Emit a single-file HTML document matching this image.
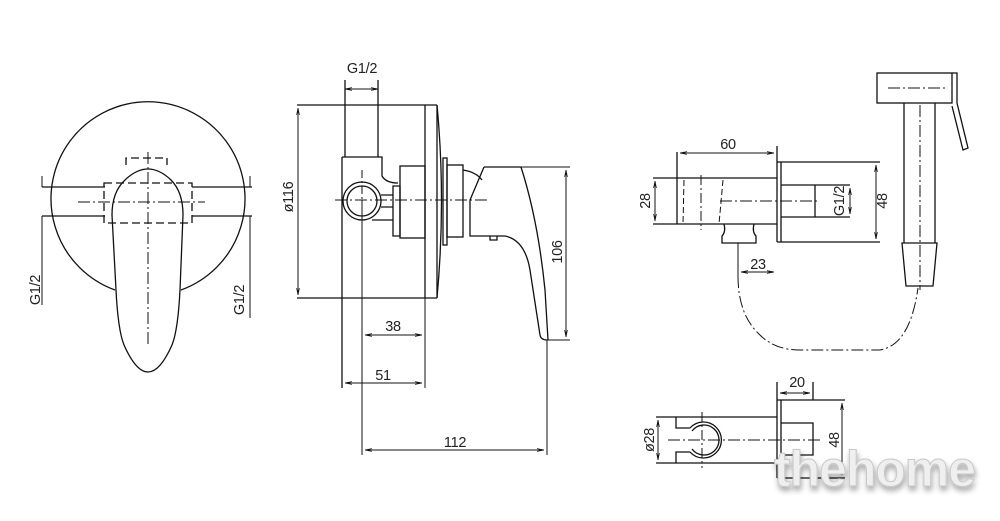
<!DOCTYPE html>
<html><head><meta charset="utf-8"><style>
html,body{margin:0;padding:0;background:#fff;}
svg{display:block}
text{font-family:"Liberation Sans",sans-serif;font-size:14.5px;fill:#222;letter-spacing:-0.3px}
.wm{font-family:"Liberation Sans",sans-serif;font-weight:bold;font-size:50px;fill:#efefef;stroke:#c8c8c8;stroke-width:1;letter-spacing:0}
</style></head><body>
<svg width="1000" height="521" viewBox="0 0 1000 521" xmlns="http://www.w3.org/2000/svg">
<defs>
<marker id="a" viewBox="0 0 10 10" refX="10" refY="5" markerWidth="7" markerHeight="7" orient="auto-start-reverse"><path d="M0,3 L10,5 L0,7" fill="none" stroke="#111" stroke-width="1"/></marker>
<filter id="sh" x="-10%" y="-30%" width="130%" height="180%"><feGaussianBlur in="SourceAlpha" stdDeviation="3"/><feOffset dx="1" dy="4"/><feComponentTransfer><feFuncA type="linear" slope="0.35"/></feComponentTransfer><feMerge><feMergeNode/><feMergeNode in="SourceGraphic"/></feMerge></filter>
</defs>
<g fill="none" stroke="#111" stroke-width="1.3">
<!-- LEFT VIEW -->
<path d="M115,290 A97,97 0 1 1 181,290"/>
<path d="M125,180 Q148,158 171,180 Q183,192 183,215 L180,290 Q178,330 172,345 Q160,372 148,372 Q136,372 124,345 Q118,330 116,290 L112,215 Q112,192 125,180 Z"/>
<path d="M104,183 H192 V223 H104 Z" stroke-dasharray="8,4"/>
<path d="M126,165 V158 H167 V165" stroke-dasharray="8,4"/>
<path d="M148,152 V345 M78,202 H205" stroke-width="1" stroke-dasharray="12,3,2,3"/>
<path d="M42,187 H105 M192,187 H252 M42,216 H105 M192,216 H252"/>
<path d="M42,176 V187 M42,216 V305 M250,176 V187 M250,216 V318" stroke-width="1"/>
<!-- MIDDLE VIEW -->
<path d="M297,105 H437 M297,298 H437 M425,105 V298 M437,105 V298"/>
<path d="M437,105 Q446,200 437,298"/>
<path d="M298,108 V295" marker-start="url(#a)" marker-end="url(#a)" stroke-width="1"/>
<path d="M345,157 V80 M378,157 V80"/>
<path d="M345,89 H378" marker-start="url(#a)" marker-end="url(#a)" stroke-width="1"/>
<path d="M342,157 H382 V176 Q386,183 398,183 M342,157 V388 M372,220 H393"/>
<circle cx="362" cy="201" r="19"/><circle cx="362" cy="201" r="15"/>
<path d="M381,195 H393 M381,207 H393 M393,186 H400 V236 H393 Z"/>
<rect x="400" y="166" width="25" height="72"/>
<rect x="443" y="158" width="4" height="87"/>
<rect x="447" y="165" width="16" height="72"/>
<path d="M463,170 Q476,172 482,180"/>
<path d="M484,167 H521 M484,167 L470,200 V236 H505 Q525,240 530,270 L540,335 Q541,340 547,340 M521,167 Q538,220 545,290 L548,340"/>
<path d="M490,236 V240 H497 V236"/>
<path d="M362,200 V455 M547,340 V455 M425,298 V388 M521,167 H570 M547,340 H570" stroke-width="1"/>
<path d="M335,200 H490" stroke-width="1" stroke-dasharray="12,3,2,3"/>
<path d="M362,170 V200" stroke-width="1" stroke-dasharray="8,3,2,3"/>
<path d="M566,170 V337" marker-start="url(#a)" marker-end="url(#a)" stroke-width="1"/>
<path d="M365,335 H422" marker-start="url(#a)" marker-end="url(#a)" stroke-width="1"/>
<path d="M345,383 H422" marker-start="url(#a)" marker-end="url(#a)" stroke-width="1"/>
<path d="M365,450 H544" marker-start="url(#a)" marker-end="url(#a)" stroke-width="1"/>
<!-- RIGHT TOP -->
<path d="M653,178 H777 M653,224 H777 M677,152 V224 M777,146 V242 M781,162 V242 M777,162 H880 M777,242 H880"/>
<path d="M655,181 V221" marker-start="url(#a)" marker-end="url(#a)" stroke-width="1"/>
<path d="M680,153 H774" marker-start="url(#a)" marker-end="url(#a)" stroke-width="1"/>
<path d="M876,165 V239" marker-start="url(#a)" marker-end="url(#a)" stroke-width="1"/>
<path d="M684,180 L683,224 M723,180 L719,224" stroke-width="1" stroke-dasharray="6,3"/>
<path d="M701,175 V230" stroke-width="1" stroke-dasharray="10,3,2,3"/>
<path d="M781,185 H815 V217 H781 M815,185 H850 M815,217 H850"/>
<path d="M850,188 V214" marker-start="url(#a)" marker-end="url(#a)" stroke-width="1"/>
<path d="M720,201 H820" stroke-width="1" stroke-dasharray="12,3,2,3"/>
<path d="M724,224 Q726,232 722,236 V243 H756 V236 Q752,232 754,224"/>
<path d="M738,243 V276" stroke-width="1"/>
<path d="M741,272 H774" marker-start="url(#a)" marker-end="url(#a)" stroke-width="1"/>
<path d="M738,276 Q738,315 760,335 Q775,350 800,350 H880 Q910,345 918,288" stroke-width="1" stroke-dasharray="12,3,2,3"/>
<rect x="877" y="73" width="75" height="30"/>
<path d="M952,73 H957 V103 L968,148 L963,150 L952,106"/>
<path d="M888,88 H945" stroke-width="1" stroke-dasharray="12,3,2,3"/>
<path d="M904,103 V243 M935,103 V243 M902,243 H937 L933,286 H906 Z"/>
<path d="M920,105 V290" stroke-width="1" stroke-dasharray="12,3,2,3"/>
<!-- RIGHT BOTTOM -->
<path d="M656,417 H777 M656,463 H777 M777,400 V478 M781,400 V478 M777,400 H845 M813,400 V382 M777,400 V382 M777,478 H845"/>
<path d="M781,423 H813 V455 H781"/>
<path d="M780,393 H810" marker-start="url(#a)" marker-end="url(#a)" stroke-width="1"/>
<path d="M842,403 V475" marker-start="url(#a)" marker-end="url(#a)" stroke-width="1"/>
<path d="M658,420 V460" marker-start="url(#a)" marker-end="url(#a)" stroke-width="1"/>
<path d="M676,417 V428 H690 M676,463 V452 H690"/>
<path d="M690,428 A18,18 0 1 1 690,452"/>
<path d="M692,431 A15,15 0 1 1 692,449"/>
<path d="M668,440 H820" stroke-width="1" stroke-dasharray="12,3,2,3"/>
<path d="M702,412 V468" stroke-width="1" stroke-dasharray="10,3,2,3"/>
</g>
<!-- labels -->
<text x="40" y="290" transform="rotate(-90 40 290)" text-anchor="middle">G1/2</text>
<text x="244" y="300" transform="rotate(-90 244 300)" text-anchor="middle">G1/2</text>
<text x="293" y="197" transform="rotate(-90 293 197)" text-anchor="middle">ø116</text>
<text x="362" y="73" text-anchor="middle">G1/2</text>
<text x="393" y="331" text-anchor="middle">38</text>
<text x="383" y="380" text-anchor="middle">51</text>
<text x="455" y="447" text-anchor="middle">112</text>
<text x="562" y="252" transform="rotate(-90 562 252)" text-anchor="middle">106</text>
<text x="728" y="149" text-anchor="middle">60</text>
<text x="650" y="201" transform="rotate(-90 650 201)" text-anchor="middle">28</text>
<text x="758" y="269" text-anchor="middle">23</text>
<text x="844" y="201" transform="rotate(-90 844 201)" text-anchor="middle">G1/2</text>
<text x="887" y="201" transform="rotate(-90 887 201)" text-anchor="middle">48</text>
<text x="797" y="387" text-anchor="middle">20</text>
<text x="654" y="440" transform="rotate(-90 654 440)" text-anchor="middle">ø28</text>
<text x="839" y="440" transform="rotate(-90 839 440)" text-anchor="middle">48</text>
<text class="wm" x="774" y="486" filter="url(#sh)" textLength="202">thehome</text>
</svg>
</body></html>
